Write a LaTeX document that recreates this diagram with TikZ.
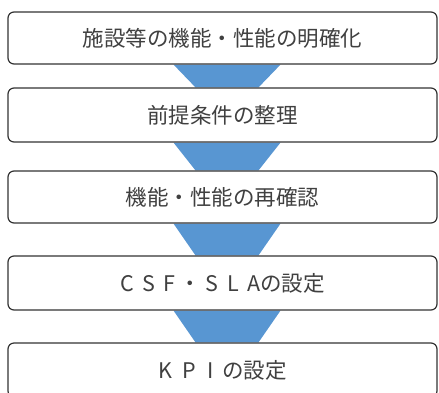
\documentclass[tikz,border=0pt]{standalone}
\usepackage{fontspec}
\newfontfamily\jp{Noto Sans CJK JP}
\usetikzlibrary{backgrounds}
\definecolor{arrowblue}{RGB}{88,150,210}
\begin{document}
\begin{tikzpicture}[x=1pt,y=-1pt,
  stepbox/.style={draw=black!80, line width=1.2pt, rounded corners=6pt, fill=white,
    minimum width=429pt, inner sep=0pt, text=black!75,
    font=\jp\fontsize{21.5}{25}\selectfont},
  flow/.style={fill=arrowblue}]
\useasboundingbox (0,0) rectangle (439,392);
\node[stepbox, minimum height=52pt] (b1) at (222.5,38) {施設等の機能・性能の明確化};
\node[stepbox, minimum height=54pt] (b2) at (222.5,115) {前提条件の整理};
\node[stepbox, minimum height=52pt] (b3) at (222.5,197) {機能・性能の再確認};
\node[stepbox, minimum height=54pt] (b4) at (222.5,283) {C\hspace{0.4em}S\hspace{0.4em}F\hspace{0.2em}・\hspace{0.2em}S\hspace{0.4em}L\hspace{0.4em}Aの設定};
\node[stepbox, minimum height=54pt] (b5) at (222.5,370) {K\hspace{0.5em}P\hspace{0.5em}I\hspace{0.4em}の設定};
\begin{pgfonlayer}{background}
\foreach \a/\b in {b1/b2,b2/b3,b3/b4,b4/b5}{
  \fill[flow] ([xshift=-49pt]\a.south) -- ([xshift=58pt]\a.south)
    -- ([xshift=36pt]\b.north) -- ([xshift=-27pt]\b.north) -- cycle;
}
\end{pgfonlayer}
\end{tikzpicture}
\end{document}
